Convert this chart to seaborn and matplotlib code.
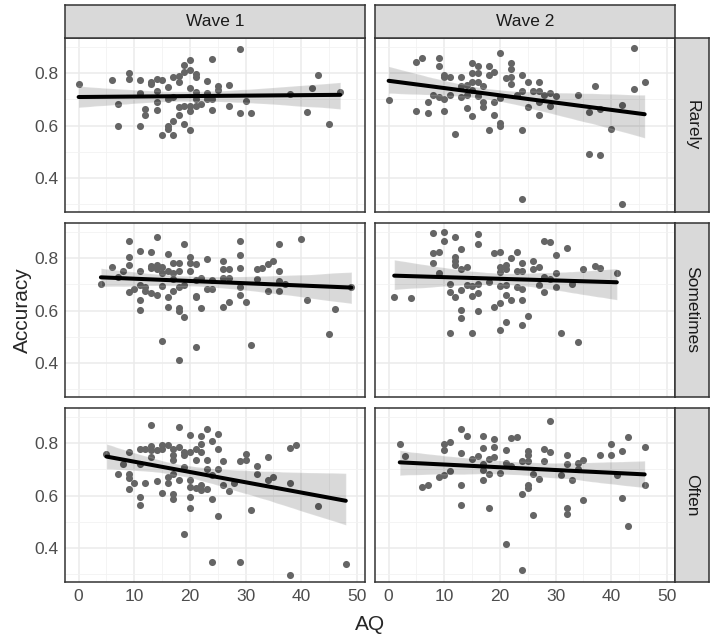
import numpy as np
import pandas as pd
import matplotlib
matplotlib.use("Agg")
import matplotlib.pyplot as plt
import seaborn as sns

# ---- data (AQ score vs accuracy) ----
w1_rarely_aq = [0, 6, 7, 7, 9, 9, 11, 11, 11, 12, 12, 13, 13, 14, 14, 14, 14, 15, 15, 16, 16, 16, 16,
                17, 17, 17, 17, 18, 18, 18, 18, 19, 19, 19, 19, 20, 20, 20, 20, 20, 20, 21, 21, 21, 21, 21,
                22, 23, 23, 23, 24, 24, 24, 25, 25, 27, 27, 29, 29, 30, 31, 38, 41, 42, 43, 45, 47]
w1_rarely_acc = [.757, .773, .683, .600, .800, .777, .773, .724, .600, .663, .640, .765, .757, .777, .730,
                 .688, .660, .773, .564, .748, .700, .600, .588, .787, .710, .617, .564, .790, .765, .670,
                 .640, .830, .806, .673, .604, .850, .810, .745, .673, .656, .583, .796, .787, .728, .700,
                 .673, .682, .771, .724, .700, .855, .700, .660, .749, .737, .754, .673, .893, .648, .693,
                 .648, .720, .651, .745, .794, .607, .728]

w2_rarely_aq = [0, 5, 6, 5, 7, 7, 8, 9, 9, 9, 10, 10, 10, 10, 11, 11, 12, 13, 13, 13, 14, 14, 14, 15, 15,
                15, 15, 15, 16, 16, 16, 16, 17, 17, 17, 18, 18, 18, 19, 19, 19, 20, 20, 20, 20, 21, 22, 22,
                22, 22, 23, 24, 24, 24, 24, 25, 25, 26, 27, 27, 27, 27, 28, 29, 29, 30, 34, 36, 36, 37, 38,
                38, 40, 42, 42, 44, 44, 46]
w2_rarely_acc = [.697, .844, .857, .656, .688, .649, .717, .857, .827, .707, .794, .784, .700, .656, .787,
                 .717, .569, .784, .749, .707, .756, .717, .665, .838, .800, .765, .737, .635, .829, .799,
                 .765, .711, .749, .688, .669, .827, .794, .584, .806, .688, .640, .877, .705, .610, .598,
                 .780, .838, .814, .784, .760, .717, .792, .733, .582, .318, .765, .669, .733, .766, .730,
                 .688, .641, .717, .724, .673, .711, .717, .651, .491, .749, .663, .487, .588, .678, .300,
                 .895, .740, .768]

w1_sometimes_aq = [4, 6, 7, 8, 9, 9, 9, 9, 10, 11, 11, 11, 11, 11, 12, 13, 13, 13, 14, 14, 14, 14, 15, 15,
                   15, 16, 16, 16, 16, 17, 17, 17, 18, 18, 18, 18, 18, 19, 19, 19, 20, 20, 20, 21, 21, 21,
                   21, 21, 22, 22, 23, 23, 24, 24, 26, 26, 26, 26, 27, 27, 27, 29, 29, 29, 29, 29, 30, 31,
                   32, 32, 33, 34, 34, 35, 36, 36, 36, 36, 37, 40, 41, 45, 46, 49, 18, 13, 15, 17, 12]
w1_sometimes_acc = [.700, .767, .729, .749, .866, .803, .775, .669, .684, .828, .749, .697, .641, .603,
                    .675, .824, .764, .665, .879, .775, .758, .660, .767, .695, .482, .815, .752, .650,
                    .614, .783, .743, .673, .783, .752, .691, .609, .597, .853, .697, .576, .803, .780,
                    .752, .777, .716, .656, .650, .459, .726, .609, .796, .682, .716, .682, .790, .758,
                    .726, .614, .758, .724, .634, .866, .813, .762, .688, .660, .631, .468, .758, .722,
                    .764, .777, .673, .790, .853, .752, .714, .673, .703, .872, .640, .510, .606, .691,
                    .412, .770, .745, .720, .690]

w2_sometimes_aq = [1, 4, 8, 8, 8, 9, 9, 10, 10, 11, 11, 11, 12, 12, 12, 12, 12, 13, 13, 13, 13, 13, 14, 14,
                   15, 15, 15, 16, 16, 16, 16, 16, 18, 19, 19, 20, 20, 20, 20, 20, 20, 21, 21, 21, 21, 21,
                   22, 22, 23, 23, 23, 24, 24, 24, 24, 24, 25, 26, 26, 27, 27, 28, 28, 28, 29, 29, 30, 30,
                   30, 31, 32, 33, 34, 35, 37, 38, 41]
w2_sometimes_acc = [.650, .648, .894, .818, .783, .824, .745, .901, .866, .703, .669, .513, .881, .805,
                    .790, .775, .653, .834, .758, .678, .603, .570, .767, .698, .692, .656, .513, .891,
                    .853, .701, .666, .599, .707, .818, .612, .824, .767, .748, .692, .627, .526, .775,
                    .758, .697, .659, .555, .800, .640, .824, .752, .688, .783, .752, .684, .640, .546,
                    .580, .790, .758, .767, .697, .866, .729, .669, .862, .720, .811, .745, .688, .513,
                    .838, .703, .481, .758, .771, .762, .745]

w1_often_aq = [5, 7, 8, 9, 9, 9, 9, 10, 11, 11, 11, 11, 12, 12, 13, 13, 13, 13, 14, 14, 15, 15, 15, 16, 16,
               16, 17, 17, 17, 17, 17, 17, 18, 18, 18, 19, 19, 19, 19, 20, 20, 20, 20, 20, 20, 21, 21, 21,
               22, 22, 22, 22, 22, 23, 23, 23, 23, 24, 24, 24, 24, 25, 25, 25, 25, 26, 26, 27, 28, 29, 29,
               30, 30, 31, 32, 32, 34, 34, 35, 38, 38, 38, 39, 43, 48]
w1_often_acc = [.757, .683, .721, .766, .683, .668, .623, .649, .776, .719, .595, .565, .776, .649, .870,
                .789, .772, .747, .772, .655, .794, .778, .608, .794, .670, .649, .778, .756, .734, .683,
                .607, .588, .861, .785, .661, .766, .756, .709, .454, .832, .766, .658, .632, .594, .553,
                .778, .734, .629, .827, .795, .766, .641, .620, .855, .734, .702, .623, .808, .677, .585,
                .346, .833, .778, .702, .522, .731, .641, .617, .649, .730, .346, .759, .734, .543, .711,
                .681, .747, .661, .670, .781, .648, .298, .791, .560, .339]

w2_often_aq = [2, 3, 6, 7, 9, 10, 10, 10, 11, 11, 13, 13, 13, 13, 14, 15, 16, 17, 17, 17, 17, 17, 18, 18,
               18, 19, 19, 19, 20, 21, 21, 21, 22, 22, 23, 24, 24, 24, 25, 25, 25, 25, 25, 26, 26, 27, 28,
               28, 29, 29, 31, 32, 32, 32, 32, 33, 34, 34, 35, 35, 38, 40, 40, 41, 42, 42, 43, 43, 46, 46]
w2_often_acc = [.795, .750, .632, .642, .669, .795, .775, .679, .804, .692, .855, .763, .642, .565, .829,
                .740, .750, .829, .782, .721, .696, .660, .740, .683, .553, .814, .785, .747, .687, .772,
                .724, .416, .819, .711, .825, .730, .607, .315, .770, .756, .730, .641, .630, .683, .527,
                .664, .778, .730, .883, .768, .677, .753, .721, .553, .528, .661, .725, .702, .734, .584,
                .753, .797, .756, .679, .770, .592, .825, .482, .785, .642]

waves = ["Wave 1", "Wave 2"]
freqs = ["Rarely", "Sometimes", "Often"]
x_ticks = [0, 10, 20, 30, 40, 50]
y_ticks = [0.4, 0.6, 0.8]

panels = {
    ("Rarely", "Wave 1"): (w1_rarely_aq, w1_rarely_acc),
    ("Rarely", "Wave 2"): (w2_rarely_aq, w2_rarely_acc),
    ("Sometimes", "Wave 1"): (w1_sometimes_aq, w1_sometimes_acc),
    ("Sometimes", "Wave 2"): (w2_sometimes_aq, w2_sometimes_acc),
    ("Often", "Wave 1"): (w1_often_aq, w1_often_acc),
    ("Often", "Wave 2"): (w2_often_aq, w2_often_acc),
}

sns.set_style("white")
plt.rcParams["font.family"] = ["Liberation Sans", "DejaVu Sans"]

W, H = 713, 637
fig = plt.figure(figsize=(W / 100, H / 100), dpi=100)


def box(x0, y0, x1, y1):
    return [x0 / W, 1 - y1 / H, (x1 - x0) / W, (y1 - y0) / H]


cols = [(65, 365), (375, 675)]
rows = [(38, 212), (223, 397), (408, 582)]
edge = "#333333"

for i, freq in enumerate(freqs):
    for j, wave in enumerate(waves):
        x0, x1 = cols[j]
        y0, y1 = rows[i]
        ax = fig.add_axes(box(x0, y0, x1, y1))
        aq, acc = panels[(freq, wave)]
        df = pd.DataFrame({"AQ": aq, "Accuracy": acc})
        sns.regplot(data=df, x="AQ", y="Accuracy", ax=ax, color="black", ci=95, seed=3,
                    scatter_kws=dict(color="#656565", s=26, linewidths=0, alpha=1),
                    line_kws=dict(lw=2.9))
        ax.set_xlabel("")
        ax.set_ylabel("")
        ax.set_xlim(-2.45, 51.45)
        ax.set_ylim(0.27, 0.934)
        ax.set_xticks(x_ticks)
        ax.set_xticks([5, 15, 25, 35, 45], minor=True)
        ax.set_yticks(y_ticks)
        ax.set_yticks([0.3, 0.5, 0.7, 0.9], minor=True)
        ax.set_axisbelow(True)
        ax.grid(which="major", color="#EBEBEB", lw=1.1)
        ax.grid(which="minor", color="#F2F2F2", lw=0.6)
        for s in ax.spines.values():
            s.set_color(edge)
            s.set_linewidth(1.1)
        ax.tick_params(which="minor", length=0)
        ax.tick_params(which="major", length=3, width=0.8, color=edge,
                       labelsize=12.5, labelcolor="#4D4D4D", pad=2)
        if j != 0:
            ax.tick_params(axis="y", left=False, labelleft=False)
        if i != len(freqs) - 1:
            ax.tick_params(axis="x", bottom=False, labelbottom=False)

        # top strips
        if i == 0:
            st = fig.add_axes(box(x0, 5, x1, 38))
            st.set_facecolor("#D9D9D9")
            st.set_xticks([])
            st.set_yticks([])
            for s in st.spines.values():
                s.set_color(edge)
                s.set_linewidth(1.1)
            st.text(0.5, 0.5, wave, ha="center", va="center", fontsize=12.5, color="#1A1A1A",
                    transform=st.transAxes)
        # right strips
        if j == 1:
            st = fig.add_axes(box(675, y0, 709, y1))
            st.set_facecolor("#D9D9D9")
            st.set_xticks([])
            st.set_yticks([])
            for s in st.spines.values():
                s.set_color(edge)
                s.set_linewidth(1.1)
            st.text(0.5, 0.5, freq, ha="center", va="center", rotation=-90, fontsize=12.5,
                    color="#1A1A1A", transform=st.transAxes)

fig.text(22 / W, 1 - 310 / H, "Accuracy", rotation=90, ha="center", va="center", fontsize=15)
fig.text(370 / W, 1 - 624 / H, "AQ", ha="center", va="center", fontsize=15)

fig.savefig("out.png", dpi=100)
